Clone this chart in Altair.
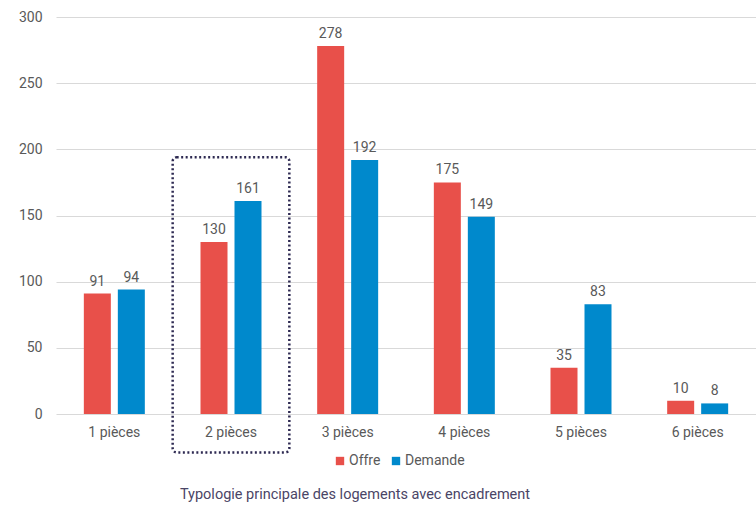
import altair as alt
import pandas as pd

categories = ["1 pièces", "2 pièces", "3 pièces", "4 pièces", "5 pièces", "6 pièces"]
offre = [91, 130, 278, 175, 35, 10]
demande = [94, 161, 192, 149, 83, 8]
series = ["Offre", "Demande"]
colors = ["#E8504A", "#0089CC"]
title_text = "Typologie principale des logements avec encadrement"

# highlighted category box (data units)
box_category = ["2 pièces"]
box_top = [194]
box_bottom = [-29]

rows = []
for c, o, d in zip(categories, offre, demande):
    rows.append({"cat": c, "serie": "Offre", "val": o})
    rows.append({"cat": c, "serie": "Demande", "val": d})
df = pd.DataFrame(rows)
box_df = pd.DataFrame({"cat": box_category, "top": box_top, "bottom": box_bottom})

FONT = "Roboto"
TXT = "#595959"

x_enc = alt.X("cat:N", sort=categories, title=None,
              scale=alt.Scale(paddingInner=0, paddingOuter=0),
              axis=alt.Axis(labelAngle=0, labelFontSize=14, labelColor=TXT, labelFont=FONT,
                            ticks=False, domain=False, labelPadding=11))
y_scale = alt.Scale(domain=[0, 300])
off_scale = alt.Scale(paddingInner=0.0, paddingOuter=0.716)

base = alt.Chart(df)

bars = base.mark_bar(size=27).encode(
    x=x_enc,
    xOffset=alt.XOffset("serie:N", sort=series, scale=off_scale),
    y=alt.Y("val:Q", scale=y_scale, title=None,
            axis=alt.Axis(values=[0, 50, 100, 150, 200, 250, 300], labelFontSize=14, labelColor=TXT,
                          labelFont=FONT, ticks=False, domain=False, labelPadding=14,
                          gridColor="#D9D9D9", gridWidth=1)),
    color=alt.Color("serie:N", sort=series, scale=alt.Scale(domain=series, range=colors),
                    legend=alt.Legend(title=None, orient="none", direction="horizontal",
                                      legendX=277, legendY=437, symbolType="square",
                                      symbolSize=70, symbolStrokeWidth=0, labelFontSize=14,
                                      labelColor=TXT, labelFont=FONT, columnPadding=8,
                                      labelOffset=2)),
)

labels = base.mark_text(dy=-12, fontSize=14, color=TXT, font=FONT).encode(
    x=alt.X("cat:N", sort=categories),
    xOffset=alt.XOffset("serie:N", sort=series, scale=off_scale),
    y=alt.Y("val:Q", scale=y_scale),
    text="val:Q",
)

box = alt.Chart(box_df).mark_rect(fill=None, filled=False, stroke="#2E2A52", strokeWidth=2.5,
                                  strokeDash=[2, 2.5], cornerRadius=4, clip=False).encode(
    x=alt.X("cat:N", sort=categories),
    y=alt.Y("top:Q", scale=y_scale),
    y2="bottom:Q",
)

chart = alt.layer(bars, labels, box).properties(
    width=700, height=397,
    autosize=alt.AutoSizeParams(type="none"),
    padding={"left": 56, "top": 17, "right": 0, "bottom": 91},
    title=alt.TitleParams(title_text, orient="bottom", fontSize=14.5, font=FONT, color="#4A4566",
                          fontWeight="normal", offset=20, dx=-51),
).configure_view(stroke=None)

chart.save("out.html", embed_options={"renderer": "svg", "actions": False})
